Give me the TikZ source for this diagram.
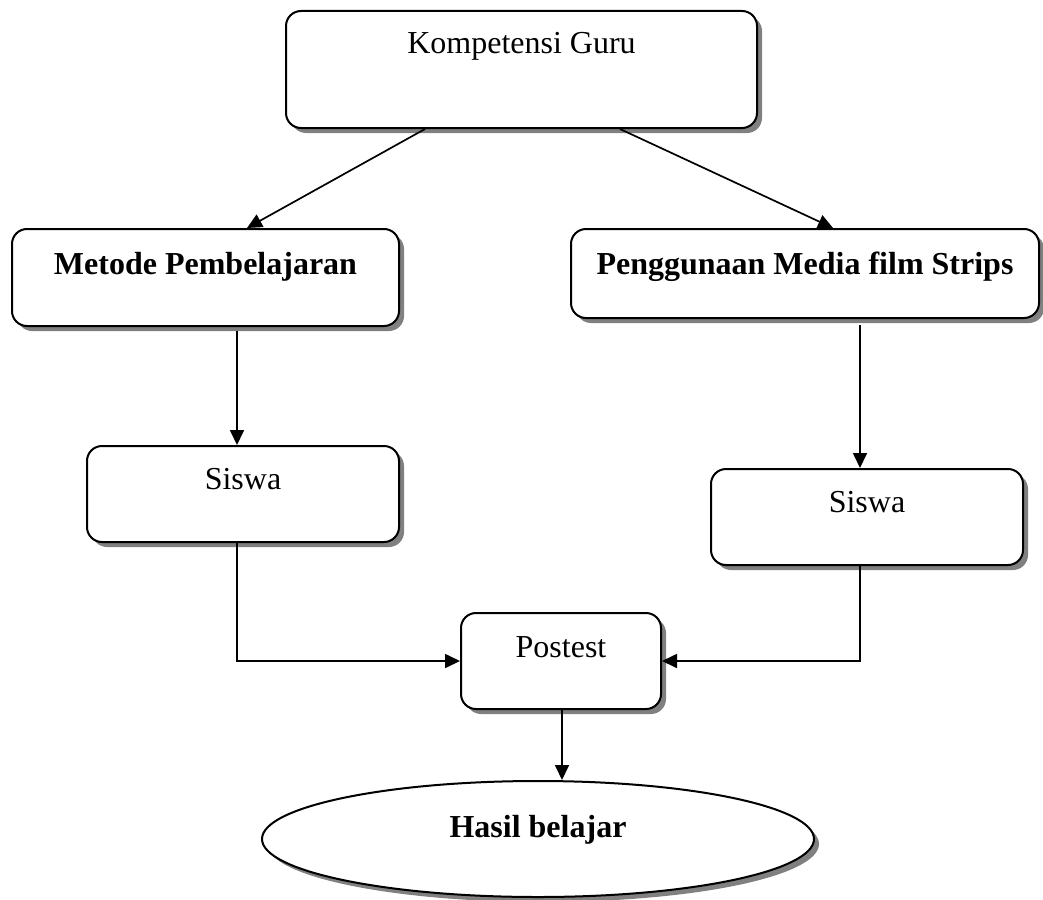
\documentclass[tikz,border=0pt]{standalone}
\usepackage{fontspec}
\setmainfont{Liberation Serif}
\usetikzlibrary{arrows.meta,shapes.geometric,shadows}
\begin{document}
\begin{tikzpicture}[x=1pt,y=-1pt,
  shad/.style={drop shadow={shadow xshift=5pt,shadow yshift=-5pt,opacity=1,fill=black!50}},
  rbox/.style={draw=black,line width=2pt,fill=white,rounded corners=15pt,inner sep=0pt,shad},
  oval/.style={ellipse,draw=black,line width=2pt,fill=white,inner sep=0pt,shad},
  lbl/.style={anchor=base,inner sep=0pt,font=\fontsize{32}{38}\selectfont},
  blbl/.style={lbl,font=\fontsize{32}{38}\selectfont\bfseries},
  conn/.style={line width=1.7pt,-{Triangle[length=15pt,width=14pt]}}
]
\useasboundingbox (0,0) rectangle (1043,899);

\node[rbox,minimum width=471pt,minimum height=117pt] (k) at (521.5,69.5) {};
\node[rbox,minimum width=387pt,minimum height=97pt] (m) at (205.5,277.5) {};
\node[rbox,minimum width=468pt,minimum height=89pt] (p) at (805,273.5) {};
\node[rbox,minimum width=312pt,minimum height=96pt] (sl) at (243,494) {};
\node[rbox,minimum width=312pt,minimum height=96pt] (sr) at (867,517) {};
\node[rbox,minimum width=200pt,minimum height=96pt] (po) at (561,661) {};
\node[oval,minimum width=552pt,minimum height=116pt] (e) at (538,839) {};

\node[lbl] (tk) at ([yshift=-44pt]k.north) {Kompetensi Guru};
\node[blbl] (tm) at ([yshift=-46pt]m.north) {Metode Pembelajaran};
\node[blbl] (tp) at ([yshift=-46pt]p.north) {Penggunaan Media film Strips};
\node[lbl] (tsl) at ([yshift=-44pt]sl.north) {Siswa};
\node[lbl] (tsr) at ([yshift=-44pt]sr.north) {Siswa};
\node[lbl] (tpo) at ([yshift=-45pt]po.north) {Postest};
\node[blbl] (te) at ([yshift=2pt]e.center) {Hasil belajar};

\draw[conn] ([xshift=-96.5pt]k.south) -- ([xshift=41.5pt]m.north);
\draw[conn] ([xshift=98.5pt]k.south) -- ([xshift=28pt]p.north);
\draw[conn] ([xshift=31.5pt,yshift=-4pt]m.south) -- ([xshift=-6pt]sl.north);
\draw[conn] ([xshift=55pt,yshift=-6pt]p.south) -- ([xshift=-7pt]sr.north);
\draw[conn] ([xshift=-6pt]sl.south) |- (po.west);
\draw[conn] ([xshift=-7pt]sr.south) |- (po.east);
\draw[conn] ([xshift=1pt]po.south) -- ([xshift=1pt]po.south |- e.north);
\end{tikzpicture}
\end{document}
